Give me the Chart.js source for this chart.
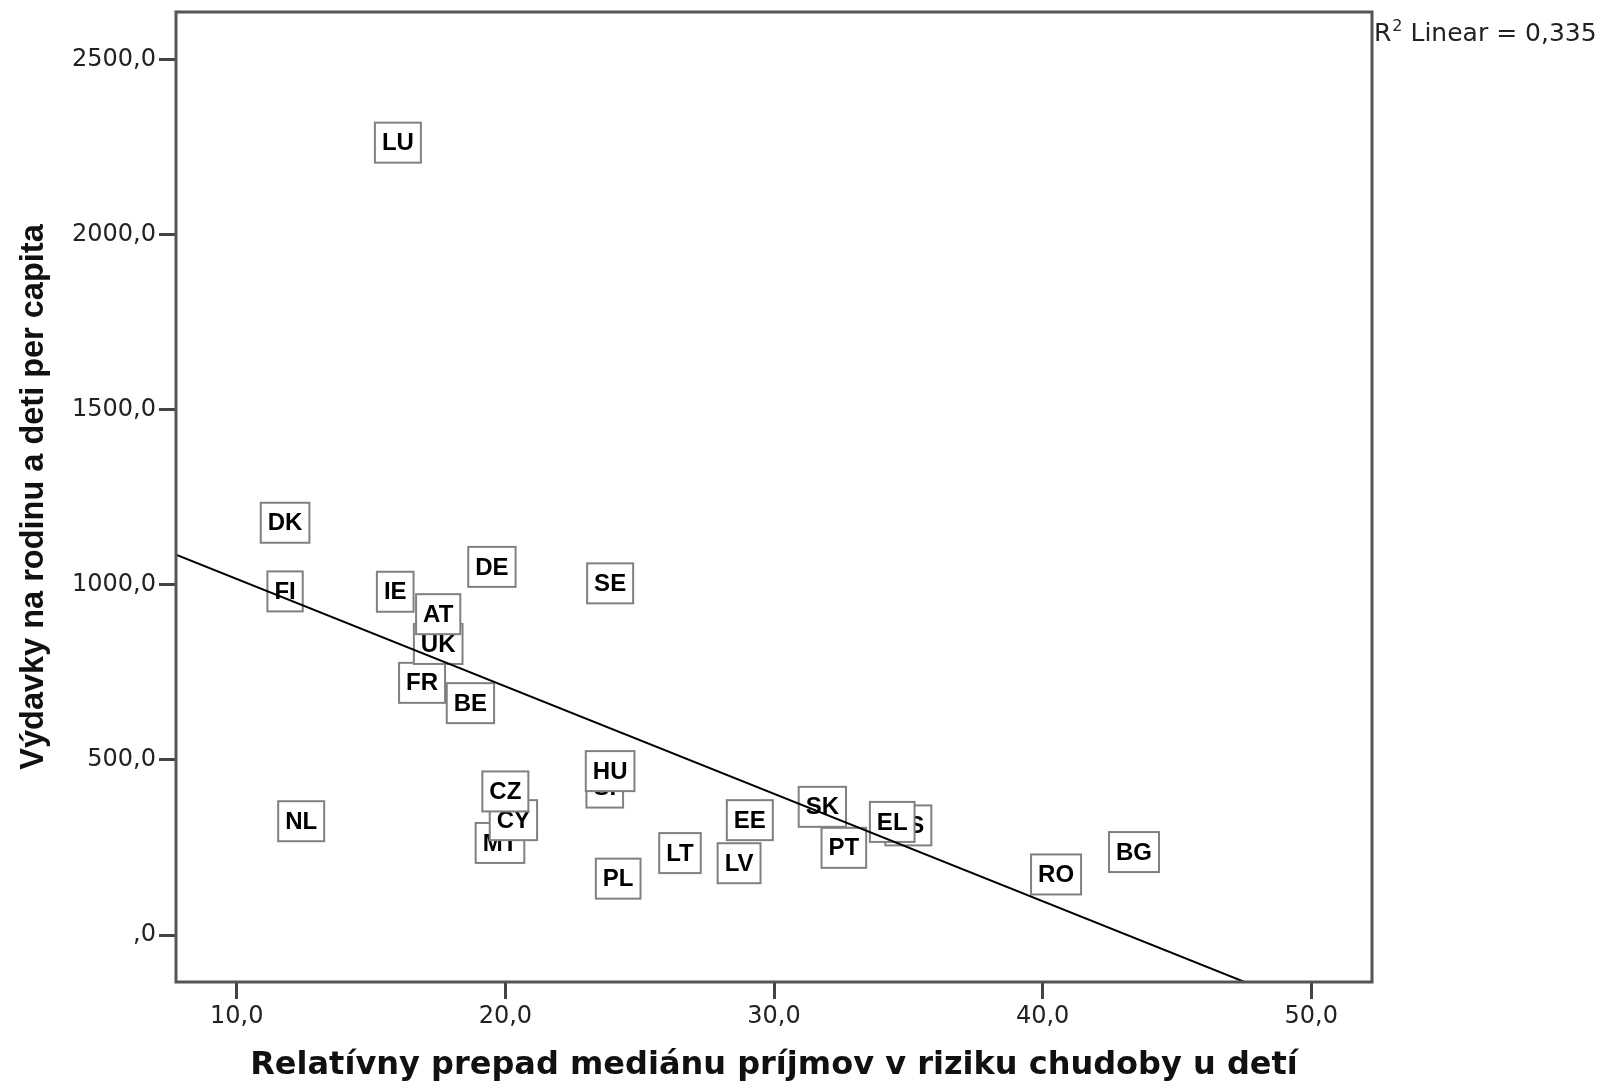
<!DOCTYPE html>
<html>
<head>
<meta charset="utf-8">
<script src="https://cdn.jsdelivr.net/npm/chart.js@4/dist/chart.umd.min.js"></script>
<style>
  html, body { margin: 0; padding: 0; background: #fff; }
  #wrap { width: 1608px; height: 1086px; }
</style>
</head>
<body>
<div id="wrap"><canvas id="c"></canvas></div>
<script>
// data (order = drawing order, later boxes on top)
const countries   = ['LU','DK','FI','IE','DE','SE','FR','BE','NL','PL','LT','LV','EE','RO','BG','PT','SK','MT','CY','CZ','SI','HU','UK','AT','ES','EL'];
const gapValues   = [16.0, 11.8, 11.8, 15.9, 19.5, 23.9, 16.9, 18.7, 12.4, 24.2, 26.5, 28.7, 29.1, 40.5, 43.4, 32.6, 31.8, 19.8, 20.3, 20.0, 23.7, 23.9, 17.5, 17.5, 35.0, 34.4];
const spendValues = [2262, 1177, 981, 980, 1051, 1004, 720, 662, 325, 161, 234, 205, 328, 173, 237, 249, 366, 263, 328, 410, 421, 468, 831, 916, 313, 323];

// linear fit shown in the chart
const fitIntercept = 1323;
const fitSlope = -30.66;
const rSquaredText = '0,335';

const xTicks = [10, 20, 30, 40, 50];
const yTicks = [0, 500, 1000, 1500, 2000, 2500];
const xRange = [7.74, 52.26];
const yRange = [-134, 2635];

const ARIAL = "'Liberation Sans', Arial, sans-serif";
const WIDE = "'DejaVu Sans', Verdana, sans-serif";

const fmt = v => v === 0 ? ',0' : v.toFixed(1).replace('.', ',');
const fitLine = xRange.map(x => ({ x: x, y: fitIntercept + fitSlope * x }));

// boxed country labels, drawn under the fit line
const labelBoxes = {
    id: 'labelBoxes',
    beforeDatasetsDraw(chart) {
        const { ctx, scales: { x, y } } = chart;
        ctx.save();
        ctx.font = 'bold 24px ' + ARIAL;
        ctx.textAlign = 'center';
        ctx.textBaseline = 'middle';
        countries.forEach((c, i) => {
            const px = x.getPixelForValue(gapValues[i]);
            const py = y.getPixelForValue(spendValues[i]);
            const w = ctx.measureText(c).width + 14;
            const h = 40;
            ctx.fillStyle = '#fff';
            ctx.fillRect(px - w / 2, py - h / 2, w, h);
            ctx.strokeStyle = '#808080';
            ctx.lineWidth = 2;
            ctx.strokeRect(px - w / 2, py - h / 2, w, h);
            ctx.fillStyle = '#000';
            ctx.fillText(c, px, py + 1);
        });
        ctx.restore();
    }
};

// plot frame + R² note
const frame = {
    id: 'frame',
    afterDraw(chart) {
        const { ctx, chartArea: a } = chart;
        ctx.save();
        ctx.strokeStyle = '#555';
        ctx.lineWidth = 3;
        ctx.strokeRect(a.left, a.top, a.right - a.left, a.bottom - a.top);

        ctx.fillStyle = '#222';
        ctx.textBaseline = 'alphabetic';
        let tx = a.right + 2;
        const base = 41;
        ctx.font = '25px ' + WIDE;
        ctx.fillText('R', tx, base);
        tx += ctx.measureText('R').width + 1;
        ctx.font = '16px ' + WIDE;
        ctx.fillText('2', tx, base - 10);
        tx += ctx.measureText('2').width;
        ctx.font = '25px ' + WIDE;
        ctx.fillText(' Linear = ' + rSquaredText, tx, base);
        ctx.restore();
    }
};

new Chart(document.getElementById('c'), {
    data: {
        datasets: [
            {
                type: 'scatter',
                data: countries.map((c, i) => ({ x: gapValues[i], y: spendValues[i] })),
                pointRadius: 0
            },
            {
                type: 'line',
                data: fitLine,
                borderColor: '#000',
                borderWidth: 2,
                pointRadius: 0,
                fill: false
            }
        ]
    },
    options: {
        responsive: true,
        maintainAspectRatio: false,
        animation: false,
        layout: { padding: { top: 12, right: 236, bottom: 0, left: 0 } },
        plugins: { legend: { display: false }, tooltip: { enabled: false } },
        scales: {
            x: {
                type: 'linear',
                min: xRange[0],
                max: xRange[1],
                afterBuildTicks: s => { s.ticks = xTicks.map(v => ({ value: v })); },
                afterFit: s => { s.height = 104; s.paddingLeft = 0; s.paddingRight = 0; },
                ticks: { callback: fmt, color: '#222', font: { size: 24, family: WIDE }, padding: 3, maxRotation: 0 },
                grid: { drawOnChartArea: false, drawTicks: true, tickLength: 17, color: '#444', lineWidth: 3 },
                border: { display: false },
                title: {
                    display: true,
                    text: 'Relatívny prepad mediánu príjmov v riziku chudoby u detí',
                    color: '#111',
                    font: { size: 32, weight: 'bold', family: WIDE },
                    padding: { top: 1, bottom: 1 }
                }
            },
            y: {
                type: 'linear',
                min: yRange[0],
                max: yRange[1],
                afterBuildTicks: s => { s.ticks = yTicks.map(v => ({ value: v })); },
                afterFit: s => { s.width = 176; s.paddingTop = 0; s.paddingBottom = 0; },
                ticks: { callback: fmt, color: '#222', font: { size: 24, family: WIDE }, padding: 3 },
                grid: { drawOnChartArea: false, drawTicks: true, tickLength: 17, color: '#444', lineWidth: 3 },
                border: { display: false },
                title: {
                    display: true,
                    text: 'Výdavky na rodinu a deti per capita',
                    color: '#111',
                    font: { size: 32.5, weight: 'bold', family: ARIAL },
                    padding: { top: 15, bottom: 0 }
                }
            }
        }
    },
    plugins: [labelBoxes, frame]
});
</script>
</body>
</html>
